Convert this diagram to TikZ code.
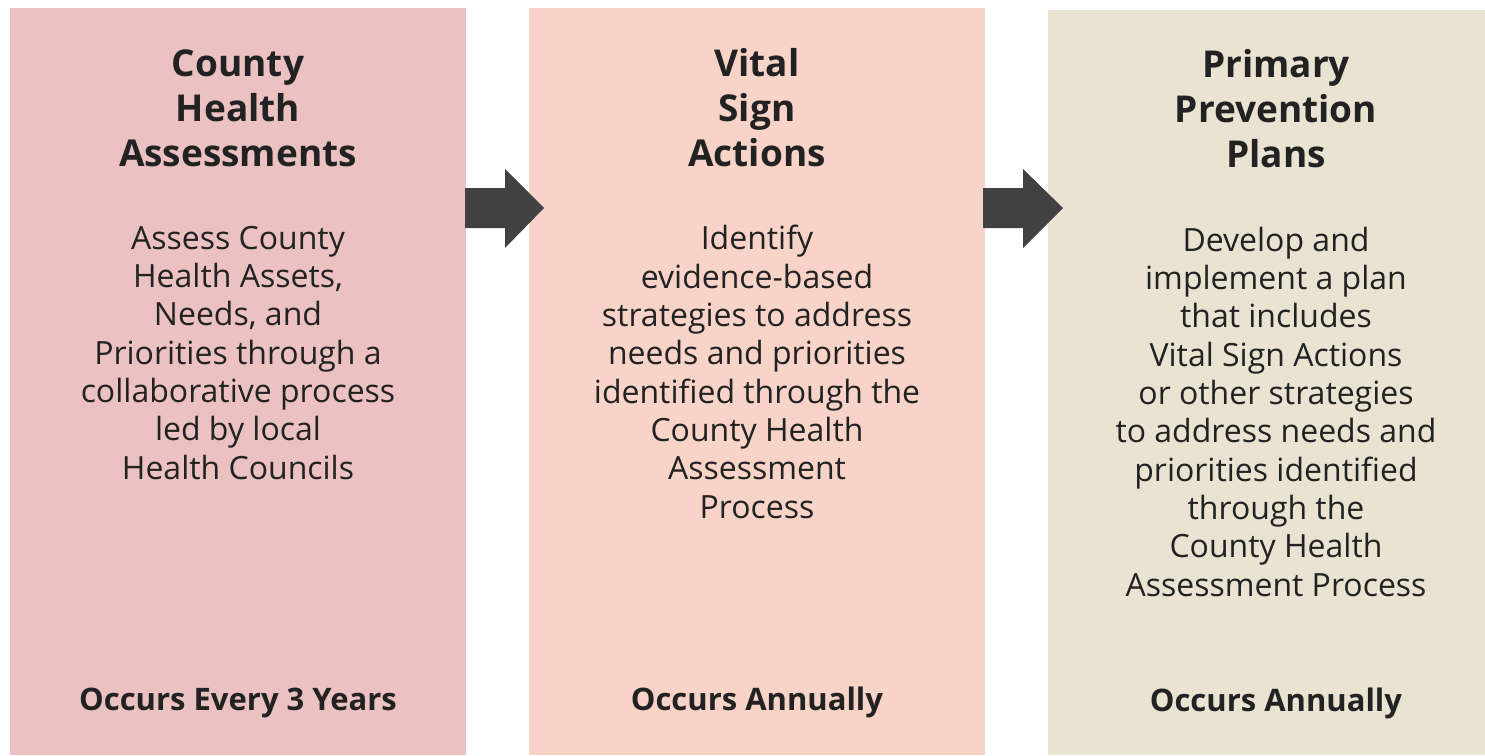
\documentclass[tikz,border=0pt]{standalone}
\usepackage{fontspec}
\setmainfont{Open Sans}
\definecolor{boxA}{HTML}{EBC1C2}
\definecolor{boxB}{HTML}{F8D3C7}
\definecolor{boxC}{HTML}{EAE3D2}
\definecolor{arrowgray}{HTML}{414141}
\definecolor{txt}{HTML}{222222}
\begin{document}
\begin{tikzpicture}[x=1pt,y=-1pt,
  panel/.style={fill=#1, draw=none},
  titletext/.style={anchor=base, align=center, inner sep=0pt, text=txt,
    font=\fontsize{37}{45}\selectfont\bfseries},
  bodytext/.style={anchor=base, align=center, inner sep=0pt, text=txt,
    font=\fontsize{32}{38.3}\selectfont},
  foottext/.style={anchor=base, align=center, inner sep=0pt, text=txt,
    font=\fontsize{31}{36}\selectfont\bfseries},
  blockarrow/.style={fill=arrowgray, draw=none}]
\useasboundingbox (0,0) rectangle (1485,755);
% panels
\fill[panel=boxA] (10,8) rectangle (466,755);
\fill[panel=boxB] (529,8) rectangle (985,755);
\fill[panel=boxC] (1048,10) rectangle (1485,755);
% arrows
\fill[blockarrow] (465,188) -- (505,188) -- (505,169) -- (544,208) -- (505,248) -- (505,228) -- (465,228) -- cycle;
\fill[blockarrow] (983,188) -- (1023,188) -- (1023,169) -- (1063,208) -- (1023,248) -- (1023,228) -- (983,228) -- cycle;
% panel 1 (anchor = baseline of last line)
\node[titletext] (t1) at (238,166) {County\\Health\\Assessments};
\node[bodytext] (b1) at (238,479) {Assess County\\Health Assets,\\Needs, and\\Priorities through a\\collaborative process\\led by local\\Health Councils};
\node[foottext] (f1) at (238,710) {Occurs Every 3 Years};
% panel 2
\node[titletext] (t2) at (757,166) {Vital\\Sign\\Actions};
\node[bodytext] (b2) at (757,518) {Identify\\evidence-based\\strategies to address\\needs and priorities\\identified through the\\County Health\\Assessment\\Process};
\node[foottext] (f2) at (757,710) {Occurs Annually};
% panel 3
\node[titletext] (t3) at (1276,167) {Primary\\Prevention\\Plans};
\node[bodytext] (b3) at (1276,596) {Develop and\\implement a plan\\that includes\\Vital Sign Actions\\or other strategies\\to address needs and\\priorities identified\\through the\\County Health\\Assessment Process};
\node[foottext] (f3) at (1276,711) {Occurs Annually};
\end{tikzpicture}
\end{document}
